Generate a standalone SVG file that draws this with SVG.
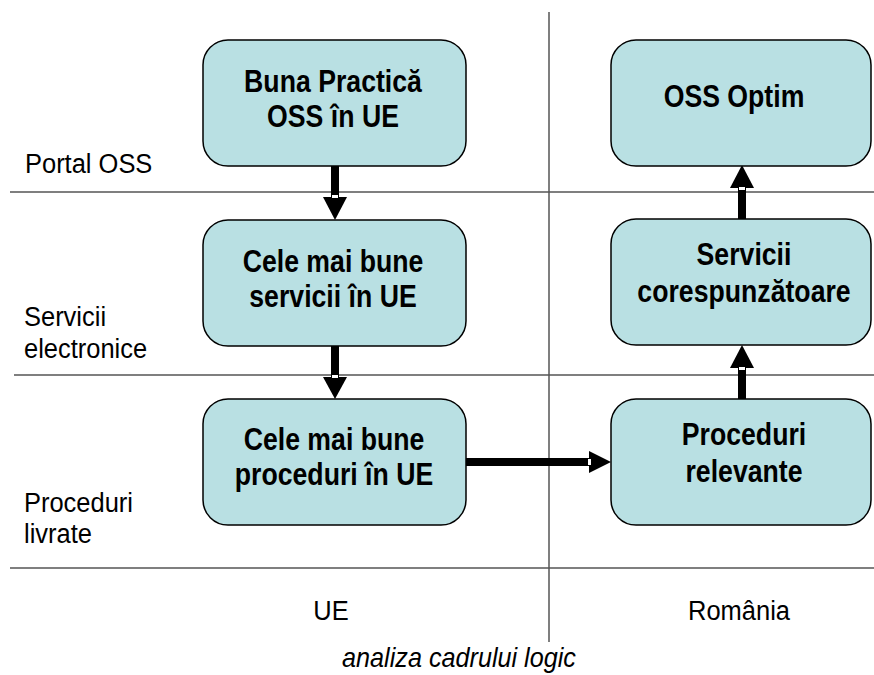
<svg xmlns="http://www.w3.org/2000/svg" width="874" height="675" viewBox="0 0 874 675">
<style>
.box{fill:#b9e0e3;stroke:#000;stroke-width:1.5}
.bt{font-family:"Liberation Sans",Arial,sans-serif;font-weight:bold;font-size:31px;text-anchor:middle;fill:#000}
.lt{font-family:"Liberation Sans",Arial,sans-serif;font-size:28px;fill:#000}
.grid{stroke:#555;stroke-width:1.5;fill:none}
.shaft{stroke:#000;stroke-width:8;fill:none}
.head{fill:#000}
</style>
<rect width="874" height="675" fill="#fff"/>
<g id="grid">
<line class="grid" x1="10" y1="192" x2="874" y2="192"/>
<line class="grid" x1="14" y1="375" x2="874" y2="375"/>
<line class="grid" x1="10" y1="568" x2="874" y2="568"/>
<line class="grid" x1="549" y1="12" x2="549" y2="642"/>
</g>
<g id="labels">
<text class="lt" transform="translate(25,173) scale(0.91,1)">Portal OSS</text>
<text class="lt" transform="translate(24,326) scale(0.91,1)">Servicii</text>
<text class="lt" transform="translate(24,358) scale(0.91,1)">electronice</text>
<text class="lt" transform="translate(24,512) scale(0.91,1)">Proceduri</text>
<text class="lt" transform="translate(24,543) scale(0.91,1)">livrate</text>
<text class="lt" text-anchor="middle" transform="translate(331,620) scale(0.91,1)">UE</text>
<text class="lt" text-anchor="middle" transform="translate(739,620) scale(0.91,1)">România</text>
<text class="lt" text-anchor="middle" font-style="italic" font-size="25" transform="translate(459,667) scale(0.9,1)">analiza cadrului logic</text>
</g>
<g id="connectors">
<line class="shaft" x1="335" y1="166" x2="335" y2="198"/>
<polygon class="head" points="323,197 347,197 335,220"/>
<rect x="332" y="195" width="6" height="3" fill="#fff"/>
<line class="shaft" x1="335" y1="346" x2="335" y2="378"/>
<polygon class="head" points="323,377 347,377 335,399"/>
<rect x="332" y="375" width="6" height="3" fill="#fff"/>
<line class="shaft" x1="466" y1="462" x2="591" y2="462"/>
<polygon class="head" points="589,451 589,473 611,462"/>
<rect x="588" y="459" width="3" height="6" fill="#fff"/>
<line class="shaft" x1="742" y1="219" x2="742" y2="186"/>
<polygon class="head" points="730,188 754,188 742,165"/>
<rect x="739" y="187" width="6" height="3" fill="#fff"/>
<line class="shaft" x1="742" y1="399" x2="742" y2="366"/>
<polygon class="head" points="730,368 754,368 742,345"/>
<rect x="739" y="367" width="6" height="3" fill="#fff"/>
</g>
<g id="n1">
<rect class="box" x="203" y="40" width="263" height="126" rx="25"/>
<text class="bt" transform="translate(333,92) scale(0.86,1)">Buna Practică</text>
<text class="bt" transform="translate(333,127) scale(0.86,1)">OSS în UE</text>
</g>
<g id="n2">
<rect class="box" x="203" y="220" width="263" height="126" rx="25"/>
<text class="bt" transform="translate(333,272) scale(0.86,1)">Cele mai bune</text>
<text class="bt" transform="translate(333,307) scale(0.86,1)">servicii în UE</text>
</g>
<g id="n3">
<rect class="box" x="203" y="399" width="263" height="126" rx="25"/>
<text class="bt" transform="translate(334,450) scale(0.86,1)">Cele mai bune</text>
<text class="bt" transform="translate(334,485) scale(0.86,1)">proceduri în UE</text>
</g>
<g id="n4">
<rect class="box" x="611" y="40" width="260" height="126" rx="25"/>
<text class="bt" transform="translate(734,107) scale(0.86,1)">OSS Optim</text>
</g>
<g id="n5">
<rect class="box" x="611" y="219" width="260" height="126" rx="25"/>
<text class="bt" transform="translate(744,265) scale(0.86,1)">Servicii</text>
<text class="bt" transform="translate(744,302) scale(0.86,1)">corespunzătoare</text>
</g>
<g id="n6">
<rect class="box" x="611" y="399" width="260" height="126" rx="25"/>
<text class="bt" transform="translate(744,445) scale(0.86,1)">Proceduri</text>
<text class="bt" transform="translate(744,482) scale(0.86,1)">relevante</text>
</g>
</svg>
